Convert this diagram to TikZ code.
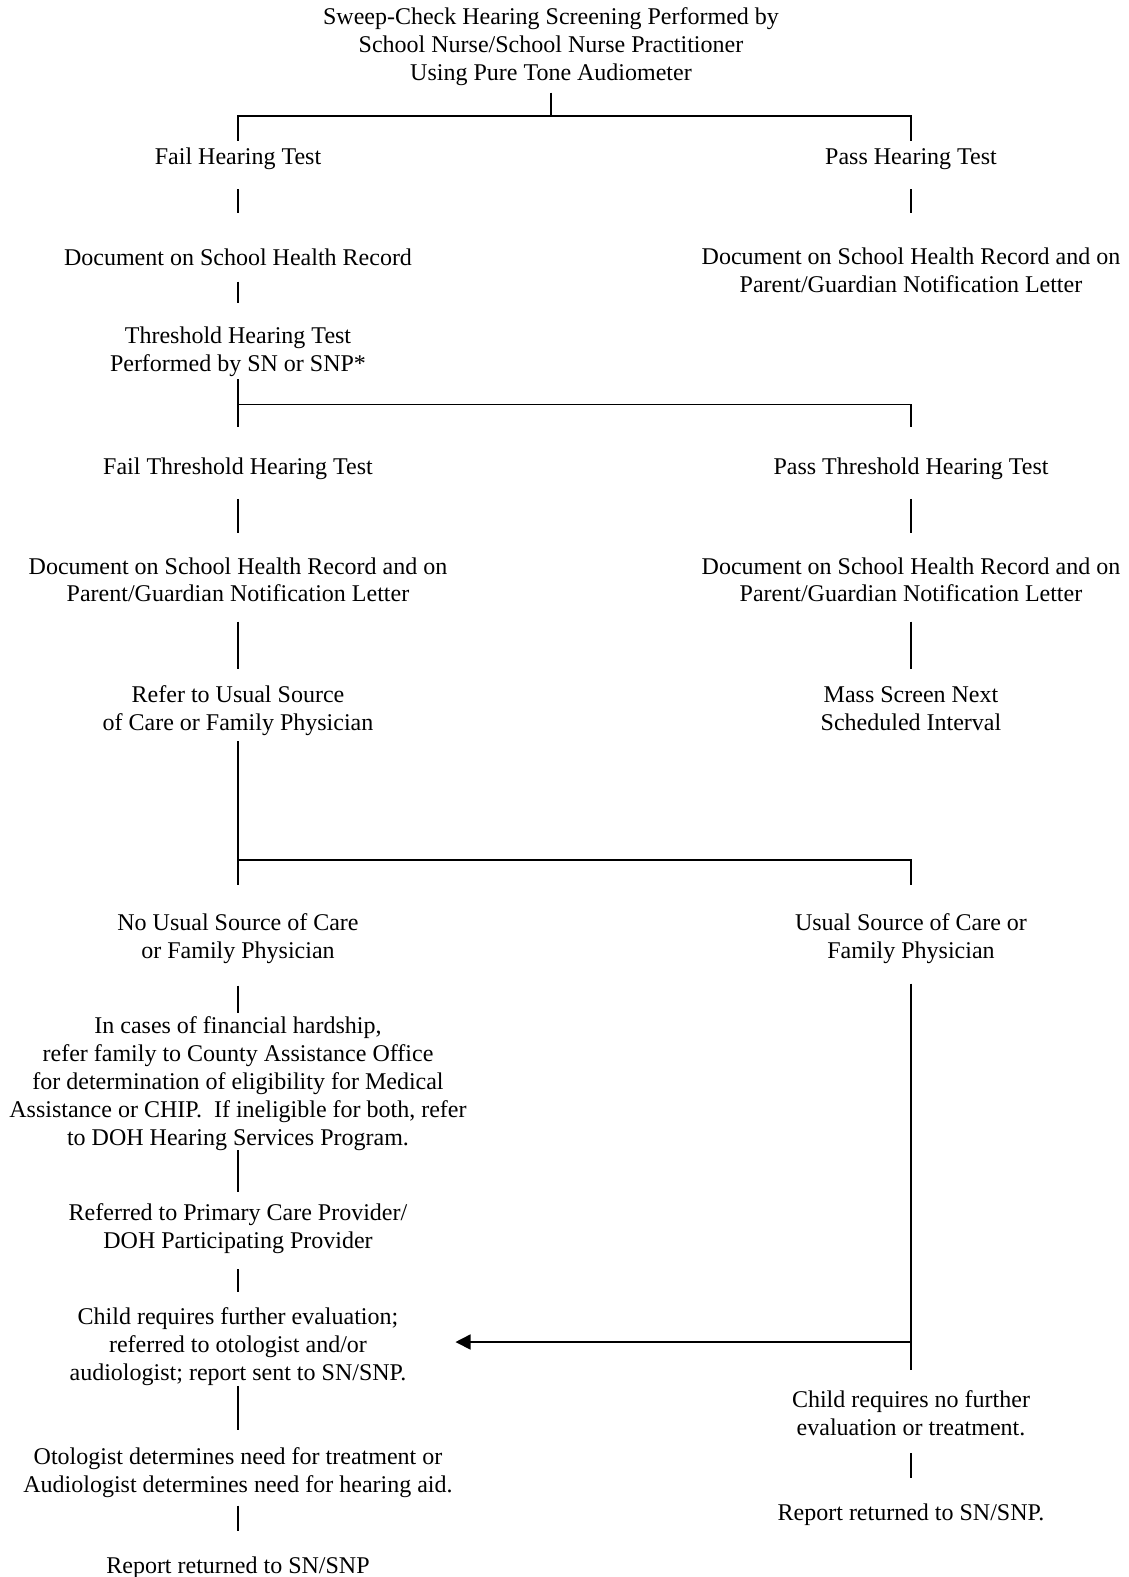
\documentclass[tikz,border=0pt]{standalone}
\usepackage{fontspec}
\setmainfont{Liberation Serif}
\usetikzlibrary{arrows.meta}
\begin{document}
\begin{tikzpicture}[x=1pt,y=-1pt,
  txt/.style={align=center,inner sep=0pt,font=\fontsize{24}{27.85}\selectfont,
    execute at begin node=\strut,execute at end node=\strut,yshift=-3.6pt},
  conn/.style={line width=1.6pt},
  arr/.style={line width=1.6pt,-{Triangle[length=15pt,width=15pt]}}]
\useasboundingbox (0,0) rectangle (1128,1577);
\fill[white] (0,0) rectangle (1128,1577);
% nodes
\node[txt] (t)  at (551,44.9) {Sweep-Check Hearing Screening Performed by\\School Nurse/School Nurse Practitioner\\Using Pure Tone Audiometer};
\node[txt] (f1) at (238,154.9) {Fail Hearing Test};
\node[txt] (p1) at (911,154.9) {Pass Hearing Test};
\node[txt] (d1) at (238,256.5) {Document on School Health Record};
\node[txt] (dp1) at (911,270.5) {Document on School Health Record and on\\Parent/Guardian Notification Letter};
\node[txt] (th) at (238,350) {Threshold Hearing Test\\Performed by SN or SNP*};
\node[txt] (f2) at (238,465.6) {Fail Threshold Hearing Test};
\node[txt] (p2) at (911,465.6) {Pass Threshold Hearing Test};
\node[txt] (d2) at (238,580.3) {Document on School Health Record and on\\Parent/Guardian Notification Letter};
\node[txt] (dp2) at (911,580.3) {Document on School Health Record and on\\Parent/Guardian Notification Letter};
\node[txt] (r) at (238,709) {Refer to Usual Source\\of Care or Family Physician};
\node[txt] (m) at (911,709) {Mass Screen Next\\Scheduled Interval};
\node[txt] (n) at (238,936.3) {No Usual Source of Care\\or Family Physician};
\node[txt] (u) at (911,936.3) {Usual Source of Care or\\Family Physician};
\node[txt] (fh) at (238,1081.7) {In cases of financial hardship,\\refer family to County Assistance Office\\for determination of eligibility for Medical\\Assistance or CHIP.~ If ineligible for both, refer\\to DOH Hearing Services Program.};
\node[txt] (rp) at (238,1227) {Referred to Primary Care Provider/\\DOH Participating Provider};
\node[txt] (c) at (238,1344.6) {Child requires further evaluation;\\referred to otologist and/or\\audiologist; report sent to SN/SNP.};
\node[txt] (o) at (238,1470.4) {Otologist determines need for treatment or\\Audiologist determines need for hearing aid.};
\node[txt] (rr) at (238,1563.9) {Report returned to SN/SNP};
\node[txt] (cn) at (911,1414) {Child requires no further\\evaluation or treatment.};
\node[txt] (rn) at (911,1511.6) {Report returned to SN/SNP.};
\coordinate (ah) at (455.5,1342);
% connectors
\draw[conn] (t |- 0,92.5) -- (t |- 0,115.7);
\draw[conn] (f1 |- 0,140.8) -- (f1 |- 0,115.7) -- (p1 |- 0,115.7) -- (p1 |- 0,140.8);
\draw[conn] (f1 |- 0,189) -- (d1 |- 0,213.2);
\draw[conn] (p1 |- 0,189) -- (dp1 |- 0,213.2);
\draw[conn] (d1 |- 0,281.6) -- (th |- 0,302.7);
\draw[conn] (th |- 0,379) -- (f2 |- 0,427.4);
\draw[conn] (th |- 0,404.3) -- (p2 |- 0,404.3) -- (p2 |- 0,427.4);
\draw[conn] (f2 |- 0,498.8) -- (d2 |- 0,533);
\draw[conn] (p2 |- 0,498.8) -- (dp2 |- 0,533);
\draw[conn] (d2 |- 0,621.5) -- (r |- 0,668.8);
\draw[conn] (dp2 |- 0,621.5) -- (m |- 0,668.8);
\draw[conn] (r |- 0,741.2) -- (n |- 0,885);
\draw[conn] (r |- 0,859.9) -- (u |- 0,859.9) -- (u |- 0,885);
\draw[conn] (n |- 0,985.6) -- (fh |- 0,1012.7);
\draw[conn] (fh |- 0,1150) -- (rp |- 0,1191.8);
\draw[conn] (rp |- 0,1269) -- (c |- 0,1292.3);
\draw[conn] (u |- 0,983.6) -- (cn |- 0,1370);
\draw[arr] (u |- ah) -- (ah);
\draw[conn] (c |- 0,1385.9) -- (o |- 0,1430.1);
\draw[conn] (o |- 0,1505.5) -- (rr |- 0,1530.7);
\draw[conn] (cn |- 0,1453.3) -- (rn |- 0,1478.4);
\end{tikzpicture}
\end{document}
